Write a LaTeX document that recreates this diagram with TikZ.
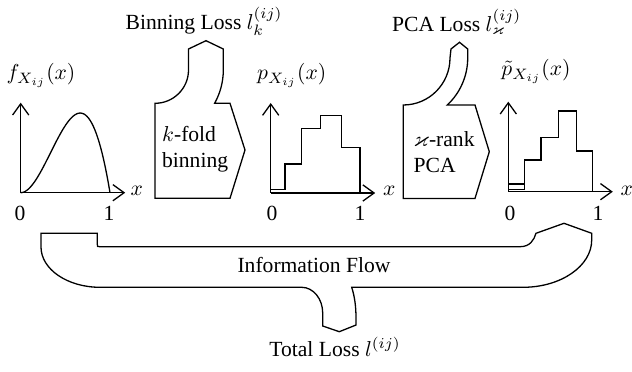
\documentclass[tikz,border=0pt]{standalone}
\usepackage{amsmath,amssymb}
\usepackage{fontspec}
\setmainfont{Liberation Serif}
\usetikzlibrary{arrows.meta}
\tikzset{
  ax/.style={-{Straight Barb[length=5.2pt,width=7.5pt]}, line width=0.6pt},
  hist/.style={line width=0.6pt, line join=miter},
  flow/.style={draw, line width=0.6pt, line join=miter},
  lbl/.style={inner sep=0pt, anchor=base},
  blocktxt/.style={inner sep=0pt, anchor=west, align=left},
}

\begin{document}
\begin{tikzpicture}[x=0.463pt, y=-0.463pt]
\useasboundingbox (0,0) rectangle (632,372);
\coordinate (o1) at (20.7,192.7);
\coordinate (o2) at (270.7,193);
\coordinate (o3) at (508.3,191.7);
\foreach \o in {o1,o2,o3} {
  \draw[ax] (\o) -- ++(0,-90);
  \draw[ax] (\o) -- ++(104.5,0);
}
\begin{scope}[shift={(o1)}]
  \draw[hist] plot[domain=0:1, samples=60, smooth] ({89.3*\x}, {-537.6*\x*\x*(1-\x)});
\end{scope}
\begin{scope}[shift={(o2)}]
  \draw[hist] (0,-3.7) -- (14.3,-3.7) -- (14.3,-29) -- (31,-29) -- (31,-64.7) -- (50,-64.7)
    -- (50,-77.3) -- (71,-77.3) -- (71,-45.7) -- (89.3,-45.7) -- (89.3,0);
\end{scope}
\begin{scope}[shift={(o3)}]
  \draw[hist] (0,-7.7) -- (16,-7.7) -- (16,-31.7) -- (32.7,-31.7) -- (32.7,-54) -- (50,-54)
    -- (50,-80.7) -- (68.4,-80.7) -- (68.4,-40.7) -- (84,-40.7) -- (84,0);
  \draw[hist] (0,-2.3) -- (16,-2.3) -- (16,-7.7);
\end{scope}

\node[lbl] (flbl) at (41,80) {$f_{X_{ij}}(x)$};
\node[lbl] (plbl) at (291.7,80) {$p_{X_{ij}}(x)$};
\node[lbl] (ptlbl) at (536,76) {$\tilde{p}_{X_{ij}}(x)$};
\node[lbl] (xa) at (136.7,196) {$x$};
\node[lbl] (xb) at (389.3,196) {$x$};
\node[lbl] (xc) at (626.7,196) {$x$};
\node[lbl] (zeroa) at (20,220.5) {0};
\node[lbl] (onea) at (109,220.5) {1};
\node[lbl] (zerob) at (272,220.5) {0};
\node[lbl] (oneb) at (360,220.5) {1};
\node[lbl] (zeroc) at (510,220.5) {0};
\node[lbl] (onec) at (598,220.5) {1};

\draw[flow] (155,198.3) -- (155,103.3) .. controls (173.5,103.3) and (188.5,88.4) .. (188.5,70)
  -- (188.5,49) -- (206,40.7) -- (223.3,49) -- (223.3,70)
  .. controls (223.3,81.7) and (220.3,93.1) .. (214.6,103.3)
  -- (230,103.3) -- (245,150) -- (230,198.3) -- cycle;
\node[blocktxt] (kfold) at (161.7,149.2) {$k$-fold\\binning};
\node[lbl] (binloss) at (204,29.3) {Binning Loss $l_k^{(ij)}$};

\draw[flow] (403.3,198.4) -- (403.3,105) .. controls (429.1,105) and (450,83.9) .. (450,58)
  -- (451,49) -- (459.5,42.3) -- (467.7,49) -- (467.7,58)
  .. controls (467.7,75.8) and (460.3,92.8) .. (447.3,105)
  -- (475,105) -- (489.3,151.7) -- (475,198.4) -- cycle;
\node[blocktxt] (kappa) at (413.3,152.5) {$\varkappa$-rank\\PCA};
\node[lbl] (pcaloss) at (456.7,32) {PCA Loss $l_{\varkappa}^{(ij)}$};

\draw[flow] (41,233.3) -- (97.3,233.3) -- (97.3,244.2) .. controls (97.3,246.7) .. (99.8,246.7)
  -- (520,246.7) .. controls (530,246.7) and (534,240) .. (536,233.3)
  -- (564,223.3) -- (591.7,233.3) -- (591.7,240)
  .. controls (591.7,266.1) and (560.9,287.3) .. (523,287.3)
  -- (351.7,287.3) .. controls (354.5,296) and (356,306) .. (356,318)
  -- (356,325) -- (339.3,331.7) -- (322.7,326) -- (322.7,313)
  .. controls (322.7,298.8) and (313.3,287.3) .. (301.7,287.3)
  -- (100,287.3) .. controls (67.4,287.3) and (41,269.2) .. (41,247) -- cycle;
\node[lbl] (info) at (314,272.7) {Information Flow};
\node[lbl] (total) at (335,356) {Total Loss $l^{(ij)}$};
\end{tikzpicture}
\end{document}
